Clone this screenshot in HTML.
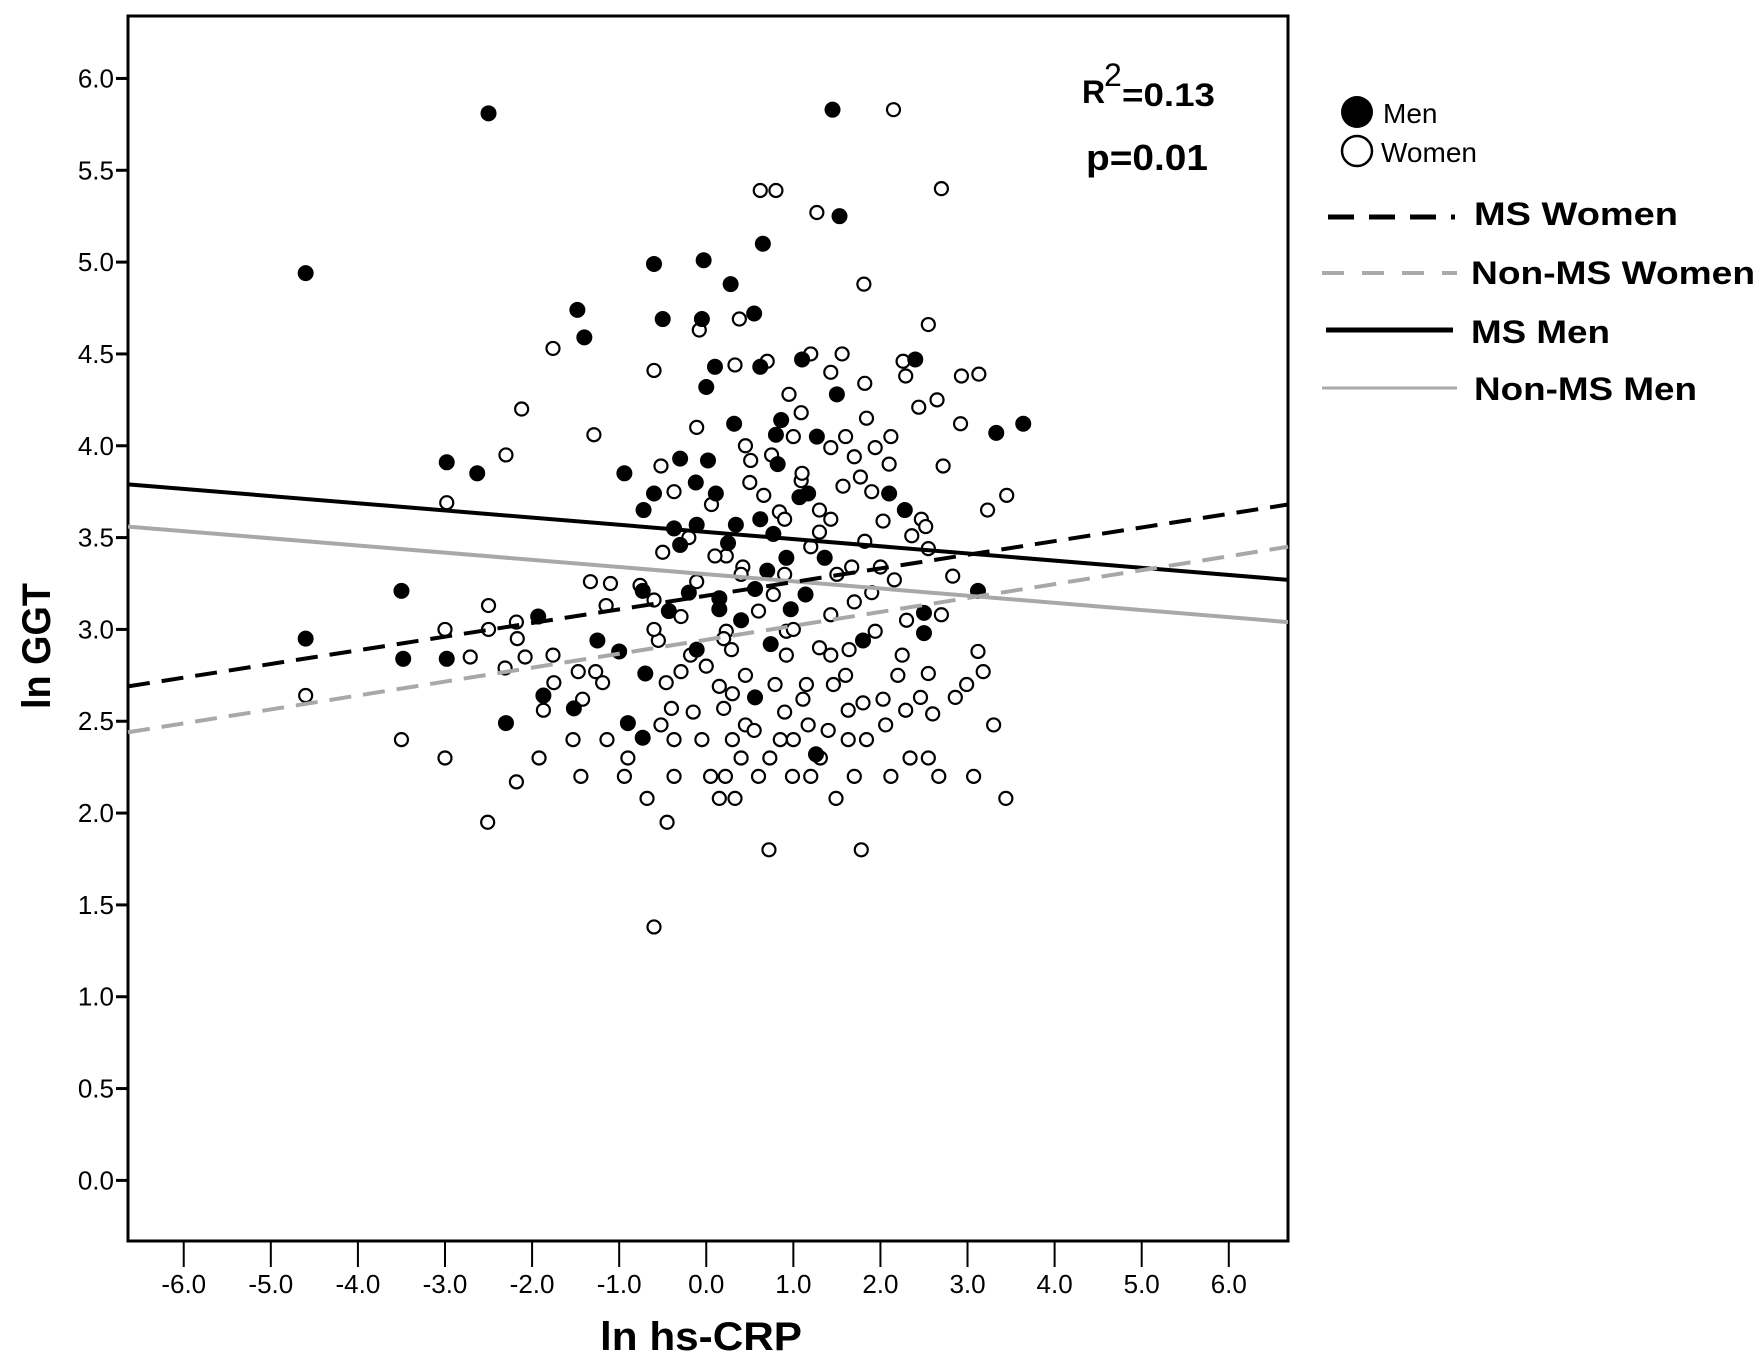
<!DOCTYPE html>
<html><head><meta charset="utf-8"><style>
html,body{margin:0;padding:0;background:#fff;}
svg{display:block;font-family:"Liberation Sans",Arial,sans-serif;}
</style></head><body>
<svg id="chart" width="1764" height="1359" viewBox="0 0 1764 1359" xmlns="http://www.w3.org/2000/svg">
<rect x="0" y="0" width="1764" height="1359" fill="#fff"/>
<g id="plot"></g>
<g id="marks"></g>
<g id="axes"></g>
<text x="1082" y="103" font-size="32" font-weight="bold">R</text>
<text x="1104" y="86" font-size="32">2</text>
<text x="1122" y="106" font-size="32" font-weight="bold" textLength="93" lengthAdjust="spacingAndGlyphs">=0.13</text>
<text x="1086" y="170" font-size="36" font-weight="bold" textLength="122" lengthAdjust="spacingAndGlyphs">p=0.01</text>
<g>
 <circle cx="1357" cy="112" r="16" fill="#000"/>
 <text x="1383" y="123" font-size="28">Men</text>
 <circle cx="1357" cy="151" r="15" fill="none" stroke="#000" stroke-width="2.5"/>
 <text x="1381" y="162" font-size="28">Women</text>
 <line x1="1328" y1="217" x2="1455" y2="217" stroke="#000" stroke-width="5" stroke-dasharray="26,15"/>
 <text x="1474" y="225" font-size="32" font-weight="bold" textLength="204" lengthAdjust="spacingAndGlyphs">MS Women</text>
 <line x1="1322" y1="273" x2="1457" y2="273" stroke="#aaa" stroke-width="4" stroke-dasharray="22,18"/>
 <text x="1471" y="284" font-size="32" font-weight="bold" textLength="284" lengthAdjust="spacingAndGlyphs">Non-MS Women</text>
 <line x1="1326" y1="330" x2="1453" y2="330" stroke="#000" stroke-width="5"/>
 <text x="1471" y="343" font-size="32" font-weight="bold" textLength="139" lengthAdjust="spacingAndGlyphs">MS Men</text>
 <line x1="1322" y1="388" x2="1457" y2="388" stroke="#aaa" stroke-width="3"/>
 <text x="1474" y="400" font-size="32" font-weight="bold" textLength="223" lengthAdjust="spacingAndGlyphs">Non-MS Men</text>
</g>
<text transform="translate(50,646) rotate(-90)" text-anchor="middle" font-size="40" font-weight="bold" textLength="126" lengthAdjust="spacingAndGlyphs">ln GGT</text>
<text x="701" y="1350" text-anchor="middle" font-size="40" font-weight="bold" textLength="202" lengthAdjust="spacingAndGlyphs">ln hs-CRP</text>
</svg>
<script>
var xTicks=[-6,-5,-4,-3,-2,-1,0,1,2,3,4,5,6];
var yTicks=[0,0.5,1,1.5,2,2.5,3,3.5,4,4.5,5,5.5,6];
var xDomain=[-6.64,6.68];
var yDomain=[-0.33,6.34];
var menX=[-2.5,1.45,-4.6,1.53,0.65,-0.6,-0.03,0.28,-1.48,-1.4,-0.5,-0.05,0.55,0.1,0.62,0,1.5,2.4,1.1,-2.98,-2.63,-0.94,-0.3,0.02,0.32,0.86,0.8,1.27,3.33,3.64,-0.6,-0.12,0.11,-0.72,-0.37,-0.11,0.34,0.62,0.77,1.07,1.17,2.1,2.28,-0.3,0.25,0.7,0.92,1.36,-3.5,-0.73,-0.2,0.15,0.56,1.14,3.12,-1.93,-0.43,0.15,-4.6,-3.48,-2.98,-1.25,-1.0,-0.11,0.74,1.8,2.5,-0.7,-1.87,-1.52,-0.9,-2.3,-0.73,0.56,1.26,2.5,0.4,0.97,0.82];
var menY=[5.81,5.83,4.94,5.25,5.10,4.99,5.01,4.88,4.74,4.59,4.69,4.69,4.72,4.43,4.43,4.32,4.28,4.47,4.47,3.91,3.85,3.85,3.93,3.92,4.12,4.14,4.06,4.05,4.07,4.12,3.74,3.8,3.74,3.65,3.55,3.57,3.57,3.6,3.52,3.72,3.74,3.74,3.65,3.46,3.47,3.32,3.39,3.39,3.21,3.21,3.2,3.17,3.22,3.19,3.21,3.07,3.1,3.11,2.95,2.84,2.84,2.94,2.88,2.89,2.92,2.94,2.98,2.76,2.64,2.57,2.49,2.49,2.41,2.63,2.32,3.09,3.05,3.11,3.9];
var womenX=[2.15,0.62,0.8,2.7,1.27,1.81,0.38,-0.08,2.55,-1.76,1.2,1.56,2.26,0.7,0.33,-0.6,1.43,2.29,2.93,3.13,1.82,0.95,-2.12,2.65,2.44,1.09,-0.11,-1.29,1.84,2.12,2.92,-2.3,-0.52,0.45,0.51,1.43,1.7,1.94,2.72,1.77,-0.37,1.09,1.57,0.66,-2.98,3.45,3.23,0.06,0.84,1.43,2.03,2.47,2.52,-0.5,0.23,1.3,1.82,2.36,2.55,0.42,0.9,1.67,2.0,2.83,-1.33,-1.1,-0.76,-0.11,-0.6,0.77,2.16,-2.5,-1.15,-0.29,1.43,2.7,-2.18,-3.0,-2.5,0.23,0.92,1.94,-2.17,-0.55,0.29,1.64,-2.71,-2.08,-1.76,-0.18,0.92,1.43,2.25,3.12,-2.31,-1.47,-1.27,-0.29,0.45,2.55,3.18,-1.75,-1.19,-0.46,0.15,0.79,1.46,2.99,-4.6,-1.42,1.11,2.03,2.46,2.86,-1.87,-0.4,0.2,1.63,2.29,2.6,-0.52,0.45,1.17,2.06,3.3,-3.5,-1.53,-1.14,-0.37,-0.05,0.3,0.85,1.63,1.84,-1.92,-3.0,-0.9,0.73,1.31,2.34,2.55,-2.18,-1.44,-0.94,-0.37,0.05,0.22,0.6,0.99,1.7,2.12,2.67,3.07,-0.68,0.15,0.33,1.49,3.44,-2.51,-0.45,0.72,1.78,-0.6,-0.2,0.1,0.4,0.9,1.2,1.5,1.7,0.6,1.0,1.3,1.6,0.3,0.9,1.4,-0.6,0.0,1.1,1.3,1.9,2.1,0.5,1.0,1.6,0.75,1.9,2.3,0.2,1.15,1.8,0.55,-0.15,2.2,1.0,0.4,1.2];
var womenY=[5.83,5.39,5.39,5.4,5.27,4.88,4.69,4.63,4.66,4.53,4.5,4.5,4.46,4.46,4.44,4.41,4.4,4.38,4.38,4.39,4.34,4.28,4.2,4.25,4.21,4.18,4.1,4.06,4.15,4.05,4.12,3.95,3.89,4.0,3.92,3.99,3.94,3.99,3.89,3.83,3.75,3.81,3.78,3.73,3.69,3.73,3.65,3.68,3.64,3.6,3.59,3.6,3.56,3.42,3.4,3.53,3.48,3.51,3.44,3.34,3.3,3.34,3.34,3.29,3.26,3.25,3.24,3.26,3.16,3.19,3.27,3.13,3.13,3.07,3.08,3.08,3.04,3.0,3.0,2.99,2.99,2.99,2.95,2.94,2.89,2.89,2.85,2.85,2.86,2.86,2.86,2.86,2.86,2.88,2.79,2.77,2.77,2.77,2.75,2.76,2.77,2.71,2.71,2.71,2.69,2.7,2.7,2.7,2.64,2.62,2.62,2.62,2.63,2.63,2.56,2.57,2.57,2.56,2.56,2.54,2.48,2.48,2.48,2.48,2.48,2.4,2.4,2.4,2.4,2.4,2.4,2.4,2.4,2.4,2.3,2.3,2.3,2.3,2.3,2.3,2.3,2.17,2.2,2.2,2.2,2.2,2.2,2.2,2.2,2.2,2.2,2.2,2.2,2.08,2.08,2.08,2.08,2.08,1.95,1.95,1.8,1.8,1.38,3.5,3.4,3.3,3.6,3.45,3.3,3.15,3.1,3.0,2.9,2.75,2.65,2.55,2.45,3.0,2.8,3.85,3.65,3.75,3.9,3.8,4.05,4.05,3.95,3.2,3.05,2.95,2.7,2.6,2.45,2.55,2.75,2.4,2.3,2.2];
var fitNames=["ms-men-fit","non-ms-men-fit","ms-women-fit","non-ms-women-fit"];
var fitStartY=[3.79,3.56,2.69,2.44];
var fitEndY=[3.27,3.04,3.68,3.45];

var L=128,R=1288,T=16,B=1241;
function sx(v){return L+(v-xDomain[0])/(xDomain[1]-xDomain[0])*(R-L);}
function sy(v){return B-(v-yDomain[0])/(yDomain[1]-yDomain[0])*(B-T);}
var NS="http://www.w3.org/2000/svg";
function mk(tag,attrs,parent){var e=document.createElementNS(NS,tag);for(var k in attrs)e.setAttribute(k,attrs[k]);parent.appendChild(e);return e;}
var plot=document.getElementById('plot'),marks=document.getElementById('marks'),axes=document.getElementById('axes');
var bg=mk('rect',{x:L,y:T,width:R-L,height:B-T,fill:'#fff',stroke:'#000','stroke-width':3},plot);


womenX.forEach(function(x,i){
 var c=mk('circle',{cx:sx(x),cy:sy(womenY[i]),r:6.5,fill:'#fff',stroke:'#000','stroke-width':2.2},marks);
 
 
});
menX.forEach(function(x,i){
 var c=mk('circle',{cx:sx(x),cy:sy(menY[i]),r:8,fill:'#000'},marks);
 
 
});
var fitStyles=[{stroke:'#000','stroke-width':4},{stroke:'#a8a8a8','stroke-width':4},{stroke:'#000','stroke-width':4,'stroke-dasharray':'22,12'},{stroke:'#a8a8a8','stroke-width':4,'stroke-dasharray':'22,12'}];
fitNames.forEach(function(n,i){
 var a=fitStyles[i];a.x1=sx(xDomain[0]);a.x2=sx(xDomain[1]);a.y1=sy(fitStartY[i]);a.y2=sy(fitEndY[i]);a.fill='none';
 var l=mk('line',a,marks);
 
 
});
yTicks.forEach(function(v){
 var t=mk('line',{x1:L-12,x2:L,y1:sy(v),y2:sy(v),stroke:'#000','stroke-width':3},axes);
 
 
 var tx=mk('text',{x:L-14,y:sy(v)+9,'text-anchor':'end','font-size':26},axes);
 tx.textContent=v.toFixed(1);
 
 
});
xTicks.forEach(function(v){
 var t=mk('line',{x1:sx(v),x2:sx(v),y1:B,y2:B+26,stroke:'#000','stroke-width':2},axes);
 
 
 var tx=mk('text',{x:sx(v),y:B+52,'text-anchor':'middle','font-size':26},axes);
 tx.textContent=v.toFixed(1);
 
 
});
</script>
</body></html>
